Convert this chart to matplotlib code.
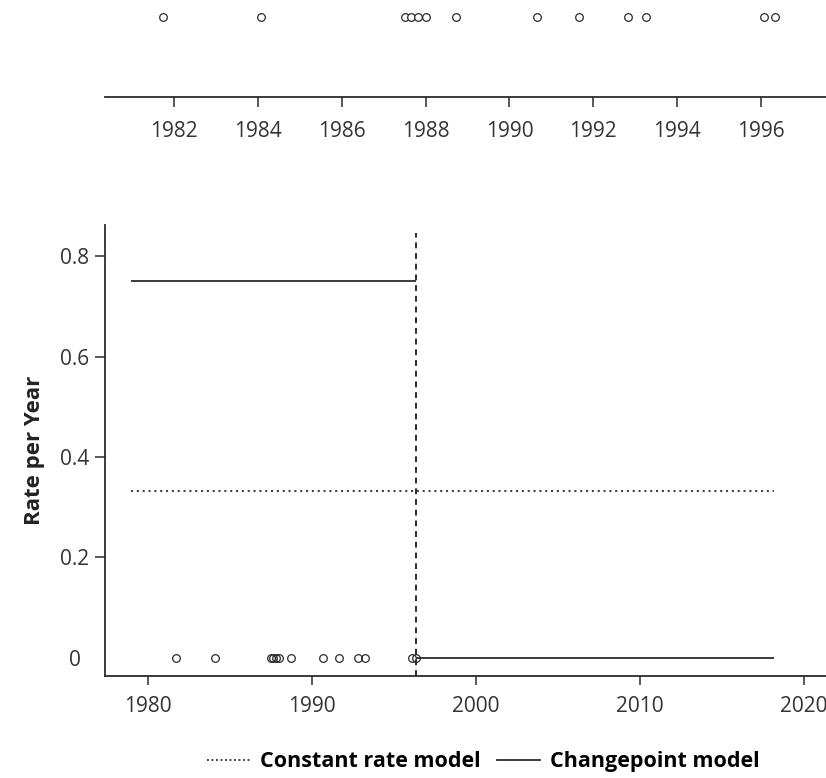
import numpy as np
import matplotlib.pyplot as plt
from matplotlib.lines import Line2D
from matplotlib.transforms import ScaledTranslation

plt.rcParams['font.family'] = ['Open Sans', 'DejaVu Sans']

# event dates (decimal years)
event_years = [1981.73, 1984.08, 1987.50, 1987.66, 1987.82, 1988.00, 1988.73,
               1990.66, 1991.65, 1992.83, 1993.25, 1996.08, 1996.34]
top_ticks = [1982, 1984, 1986, 1988, 1990, 1992, 1994, 1996]

# model fits
model_start = 1979.0
model_end = 2018.2
changepoint = 1996.38
rate_before = 0.75
rate_after = 0.0
constant_rate = 0.333

bottom_ticks = [1980, 1990, 2000, 2010, 2020]
y_ticks = [0, 0.2, 0.4, 0.6, 0.8]
y_labels = ['0', '0.2', '0.4', '0.6', '0.8']

ink = '#2b2b2b'
fig = plt.figure(figsize=(8.26, 7.78), dpi=100)

# top panel: event timeline
ax1 = fig.add_axes([0.127, 0.8753, 0.873, 0.1247])
ax1.plot(event_years, [0.825] * len(event_years), 'o', mfc='white', mec=ink,
         ms=5.5, mew=0.9, clip_on=False)
ax1.set_xlim(1980.35, 1997.55)
ax1.set_ylim(0, 1)
for s in ['top', 'left', 'right']:
    ax1.spines[s].set_visible(False)
ax1.spines['bottom'].set_linewidth(1.3)
ax1.spines['bottom'].set_color(ink)
ax1.set_yticks([])
ax1.set_xticks(top_ticks)
ax1.tick_params(axis='x', length=7.2, width=1.1, color=ink, labelsize=15,
                labelcolor='#333333', pad=10)

# bottom panel: rate models
ax2 = fig.add_axes([0.127, 0.1311, 0.873, 0.5797])
ax2.hlines(constant_rate, model_start, model_end, colors='#444444',
           linestyles=(0, (1, 1.8)), lw=1.5)
ax2.hlines(rate_before, model_start, changepoint, colors=ink, lw=1.3)
ax2.hlines(rate_after, changepoint, model_end, colors=ink, lw=1.3)
ax2.axvline(changepoint, ymin=0, ymax=0.983, color=ink, ls=(0, (3, 2.5)), lw=1.4)
ax2.plot(event_years, [0] * len(event_years), 'o', mfc='none', mec=ink,
         ms=5.5, mew=0.9, zorder=5)
ax2.set_xlim(1977.38, 2021.35)
ax2.set_ylim(-0.036, 0.862)
ax2.spines['top'].set_visible(False)
ax2.spines['right'].set_visible(False)
for s in ['left', 'bottom']:
    ax2.spines[s].set_linewidth(1.3)
    ax2.spines[s].set_color(ink)
ax2.set_xticks(bottom_ticks)
ax2.set_yticks(y_ticks)
ax2.set_yticklabels(y_labels)
ax2.tick_params(axis='x', length=6.5, width=1.1, color=ink, labelsize=15,
                labelcolor='#333333', pad=8)
ax2.tick_params(axis='y', length=7.2, width=1.1, color=ink, labelsize=15,
                labelcolor='#333333', pad=4)
# the zero label has no tick and sits a bit further left
ax2.yaxis.get_major_ticks()[0].tick1line.set_visible(False)
zero_lbl = ax2.get_yticklabels()[0]
zero_lbl.set_transform(zero_lbl.get_transform() + ScaledTranslation(-6 / 72, 0, fig.dpi_scale_trans))
ax2.set_ylabel('Rate per Year', fontsize=16, fontweight='bold', color='#222222')
ax2.yaxis.set_label_coords(-0.083, 0.5)

handles = [Line2D([], [], color=ink, ls=(0, (1, 1.5)), lw=1.3),
           Line2D([], [], color=ink, lw=1.3)]
fig.legend(handles, ['Constant rate model', 'Changepoint model'], loc='center',
           bbox_to_anchor=(0.585, 0.0206), ncol=2, frameon=False, handlelength=2.0,
           handletextpad=0.47, columnspacing=0.74,
           prop={'size': 15.5, 'weight': 'bold'})

fig.savefig('out.png', dpi=100)
